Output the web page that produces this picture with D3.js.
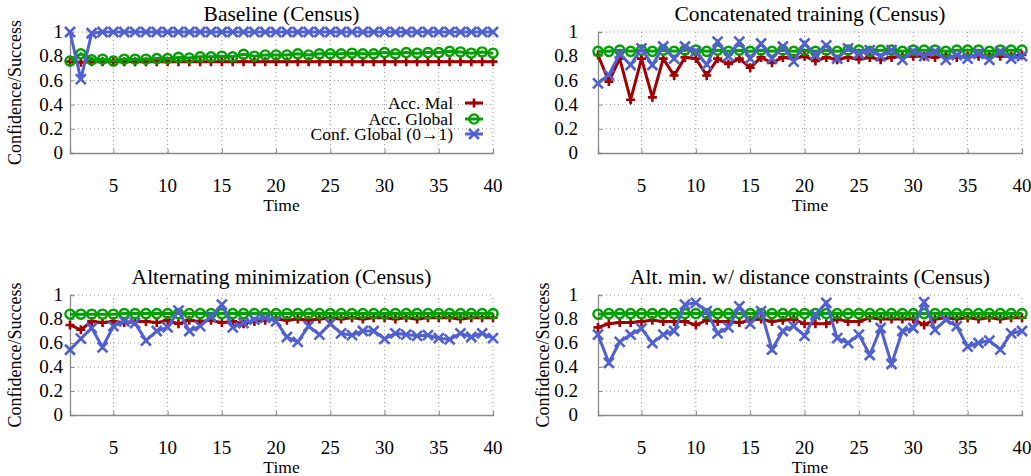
<!DOCTYPE html>
<html>
<head>
<meta charset="utf-8">
<script src="https://cdn.jsdelivr.net/npm/d3@7"></script>
<style>
  body { margin: 0; background: #fff; }
  text { font-family: "Liberation Serif", "Times New Roman", serif; fill: #000; }
</style>
</head>
<body>
<div id="container"></div>
<script>

var timeSteps = [1,2,3,4,5,6,7,8,9,10,11,12,13,14,15,16,17,18,19,20,
                 21,22,23,24,25,26,27,28,29,30,31,32,33,34,35,36,37,38,39,40];
var xTicks = [5,10,15,20,25,30,35,40];
var yTicks = [0,0.2,0.4,0.6,0.8,1];
var seriesNames = ['Acc. Mal', 'Acc. Global', 'Conf. Global (0\u21921)'];
var panelTitles = ['Baseline (Census)', 'Concatenated training (Census)',
                   'Alternating minimization (Census)', 'Alt. min. w/ distance constraints (Census)'];

// Baseline
var baseMal = [0.755,0.75,0.755,0.755,0.755,0.755,0.755,0.755,0.755,0.755,
               0.755,0.755,0.755,0.755,0.755,0.755,0.755,0.755,0.755,0.755,
               0.755,0.755,0.755,0.755,0.755,0.755,0.755,0.755,0.755,0.755,
               0.755,0.755,0.755,0.755,0.755,0.755,0.755,0.755,0.755,0.755];
var baseGlobal = [0.76,0.82,0.77,0.775,0.76,0.775,0.775,0.775,0.78,0.78,
                  0.79,0.785,0.795,0.795,0.8,0.795,0.815,0.8,0.81,0.81,
                  0.81,0.82,0.81,0.82,0.82,0.82,0.825,0.82,0.82,0.83,
                  0.82,0.83,0.825,0.83,0.83,0.84,0.835,0.825,0.835,0.825];
var baseConf = [1,0.61,0.99,1,1,1,1,1,1,1,
                1,1,1,1,1,1,1,1,1,1,
                1,1,1,1,1,1,1,1,1,1,
                1,1,1,1,1,1,1,1,1,1];

// Concatenated training
var concMal = [0.81,0.59,0.78,0.44,0.78,0.46,0.78,0.64,0.79,0.78,
               0.64,0.78,0.735,0.78,0.705,0.79,0.745,0.79,0.78,0.8,
               0.76,0.79,0.77,0.79,0.775,0.79,0.77,0.79,0.8,0.8,
               0.8,0.79,0.81,0.79,0.8,0.8,0.81,0.8,0.8,0.81];
var concGlobal = [0.84,0.84,0.85,0.84,0.85,0.84,0.85,0.84,0.85,0.85,
                  0.84,0.85,0.84,0.85,0.84,0.85,0.84,0.85,0.84,0.85,
                  0.84,0.85,0.84,0.85,0.85,0.84,0.85,0.85,0.84,0.85,
                  0.85,0.85,0.84,0.85,0.85,0.85,0.84,0.85,0.85,0.85];
var concConf = [0.576,0.645,0.82,0.727,0.865,0.727,0.88,0.78,0.88,0.84,
                0.73,0.92,0.8,0.92,0.78,0.905,0.78,0.88,0.755,0.905,
                0.81,0.89,0.78,0.865,0.82,0.85,0.8,0.85,0.77,0.84,
                0.8,0.84,0.77,0.81,0.78,0.82,0.77,0.84,0.78,0.8];

// Alternating minimization
var altMal = [0.75,0.71,0.78,0.77,0.78,0.77,0.78,0.78,0.77,0.79,
              0.76,0.79,0.78,0.79,0.77,0.78,0.76,0.78,0.79,0.8,
              0.79,0.8,0.79,0.8,0.81,0.8,0.81,0.8,0.81,0.81,
              0.8,0.81,0.8,0.81,0.81,0.81,0.8,0.81,0.81,0.81];
var altGlobal = [0.84,0.84,0.84,0.84,0.84,0.845,0.845,0.845,0.845,0.845,
                 0.845,0.845,0.845,0.845,0.845,0.845,0.845,0.845,0.845,0.845,
                 0.845,0.845,0.845,0.845,0.845,0.845,0.845,0.845,0.845,0.845,
                 0.845,0.845,0.845,0.845,0.845,0.845,0.845,0.845,0.845,0.845];
var altConf = [0.544,0.636,0.725,0.564,0.74,0.78,0.765,0.62,0.7,0.73,
               0.87,0.7,0.74,0.82,0.92,0.73,0.765,0.795,0.81,0.78,
               0.65,0.61,0.74,0.67,0.76,0.68,0.665,0.7,0.7,0.635,
               0.68,0.67,0.66,0.665,0.64,0.63,0.68,0.65,0.68,0.64];

// Alt. min. with distance constraints
var distMal = [0.73,0.76,0.77,0.77,0.78,0.79,0.78,0.78,0.78,0.75,
               0.79,0.78,0.78,0.77,0.79,0.8,0.78,0.79,0.8,0.76,
               0.76,0.76,0.8,0.78,0.78,0.81,0.8,0.8,0.8,0.8,
               0.75,0.8,0.81,0.8,0.81,0.8,0.81,0.8,0.81,0.81];
var distGlobal = [0.84,0.845,0.845,0.845,0.845,0.845,0.845,0.845,0.845,0.845,
                  0.845,0.845,0.845,0.845,0.845,0.845,0.845,0.845,0.845,0.845,
                  0.845,0.845,0.845,0.845,0.845,0.845,0.845,0.845,0.845,0.845,
                  0.845,0.845,0.845,0.845,0.845,0.845,0.845,0.845,0.845,0.845];
var distConf = [0.67,0.435,0.61,0.67,0.72,0.6,0.67,0.7,0.92,0.935,
                0.865,0.68,0.73,0.905,0.76,0.865,0.545,0.7,0.74,0.66,
                0.835,0.935,0.64,0.6,0.67,0.5,0.725,0.425,0.7,0.725,
                0.94,0.71,0.795,0.74,0.57,0.6,0.62,0.545,0.68,0.7];

var colors = ['#a00000', '#00a000', '#5060d0'];
var markers = ['plus', 'circle', 'cross'];

var panels = [
    { title: panelTitles[0], series: [baseMal, baseGlobal, baseConf], left: 70, right: 493, top: 32, bottom: 153, labelGap: 7, yLabelX: 15, legend: true },
    { title: panelTitles[1], series: [concMal, concGlobal, concConf], left: 598, right: 1022, top: 32, bottom: 153, labelGap: 20, yLabelX: null },
    { title: panelTitles[2], series: [altMal, altGlobal, altConf], left: 70, right: 493, top: 295, bottom: 415, labelGap: 7, yLabelX: 15 },
    { title: panelTitles[3], series: [distMal, distGlobal, distConf], left: 598, right: 1022, top: 295, bottom: 415, labelGap: 20, yLabelX: 543 }
];

var svg = d3.select('#container').append('svg')
    .attr('width', 1031)
    .attr('height', 476);

panels.forEach(function(p) { drawPanel(svg, p); });

function drawMarker(g, kind, color) {
    if (kind == 'plus') {
        g.append('path').attr('d', 'M-4.5,0H4.5M0,-4.5V4.5')
            .attr('stroke', color).attr('stroke-width', 2.6).attr('fill', 'none');
    } else if (kind == 'circle') {
        g.append('circle').attr('r', 4.6)
            .attr('stroke', color).attr('stroke-width', 2.4).attr('fill', 'none');
    } else {
        g.append('path').attr('d', 'M-5,-5L5,5M-5,5L5,-5')
            .attr('stroke', color).attr('stroke-width', 2.6).attr('fill', 'none');
    }
}

function drawPanel(svg, p) {
    var x = d3.scaleLinear().domain([1, 40]).range([p.left, p.right]);
    var y = d3.scaleLinear().domain([0, 1]).range([p.bottom, p.top]);
    var g = svg.append('g');

    // dotted grid
    g.selectAll('.gx').data(xTicks).enter().append('line')
        .attr('x1', function(d) { return x(d); }).attr('x2', function(d) { return x(d); })
        .attr('y1', p.bottom).attr('y2', p.top)
        .attr('stroke', '#999').attr('stroke-width', 1).attr('stroke-dasharray', '1,3');
    g.selectAll('.gy').data(yTicks.filter(function(d) { return d > 0; })).enter().append('line')
        .attr('x1', p.left).attr('x2', p.right)
        .attr('y1', function(d) { return y(d); }).attr('y2', function(d) { return y(d); })
        .attr('stroke', '#999').attr('stroke-width', 1).attr('stroke-dasharray', '1,3');

    // axes (left + bottom solid)
    var xAxis = d3.axisBottom(x).tickValues(xTicks).tickSize(-4).tickFormat('');
    var xa = g.append('g').attr('transform', 'translate(0,' + p.bottom + ')').call(xAxis);
    var yAxis = d3.axisLeft(y).tickValues(yTicks).tickSize(-4).tickFormat('');
    var ya = g.append('g').attr('transform', 'translate(' + p.left + ',0)').call(yAxis);
    [xa, ya].forEach(function(a) {
        a.select('.domain').attr('stroke', '#8a8a8a').attr('stroke-width', 1.3);
        a.selectAll('.tick line').attr('stroke', '#8a8a8a');
    });

    // tick labels
    g.selectAll('.tx').data(xTicks).enter().append('text')
        .attr('x', function(d) { return x(d); })
        .attr('y', p.bottom + 39)
        .attr('text-anchor', 'middle')
        .style('font-size', '19px')
        .text(function(d) { return d; });
    g.selectAll('.ty').data(yTicks).enter().append('text')
        .attr('x', p.left - p.labelGap)
        .attr('y', function(d) { return y(d); })
        .attr('dy', '0.33em')
        .attr('text-anchor', 'end')
        .style('font-size', '19px')
        .text(function(d) { return d3.format('~g')(d); });

    g.append('text')
        .attr('x', (p.left + p.right) / 2).attr('y', p.bottom + 57.5)
        .attr('text-anchor', 'middle').style('font-size', '17.5px')
        .text('Time');
    g.append('text')
        .attr('x', (p.left + p.right) / 2).attr('y', p.top - 11)
        .attr('text-anchor', 'middle').style('font-size', '21.5px')
        .text(p.title);
    if (p.yLabelX != null) {
        g.append('text')
            .attr('transform', 'translate(' + (p.yLabelX + 6) + ',' + ((p.top + p.bottom) / 2) + ') rotate(-90)')
            .attr('text-anchor', 'middle').style('font-size', '18px')
            .text('Confidence/Success');
    }

    // series
    var line = d3.line()
        .x(function(d, i) { return x(timeSteps[i]); })
        .y(function(d) { return y(d); });

    p.series.forEach(function(values, k) {
        g.append('path').datum(values)
            .attr('d', line)
            .attr('fill', 'none')
            .attr('stroke', colors[k])
            .attr('stroke-width', 3)
            .attr('stroke-linejoin', 'miter');
        g.selectAll('.m' + k).data(values).enter().append('g')
            .attr('transform', function(d, i) { return 'translate(' + x(timeSteps[i]) + ',' + y(d) + ')'; })
            .each(function() { drawMarker(d3.select(this), markers[k], colors[k]); });
    });

    if (p.legend) {
        var rows = [103, 119, 134];
        seriesNames.forEach(function(name, k) {
            var lg = g.append('g');
            lg.append('text').attr('x', 453).attr('y', rows[k]).attr('dy', '0.33em')
                .attr('text-anchor', 'end').style('font-size', '17.5px').text(name);
            lg.append('line').attr('x1', 465).attr('x2', 483).attr('y1', rows[k]).attr('y2', rows[k])
                .attr('stroke', colors[k]).attr('stroke-width', 3);
            var mk = lg.append('g').attr('transform', 'translate(474,' + rows[k] + ')');
            drawMarker(mk, markers[k], colors[k]);
        });
    }
}
</script>
</body>
</html>
